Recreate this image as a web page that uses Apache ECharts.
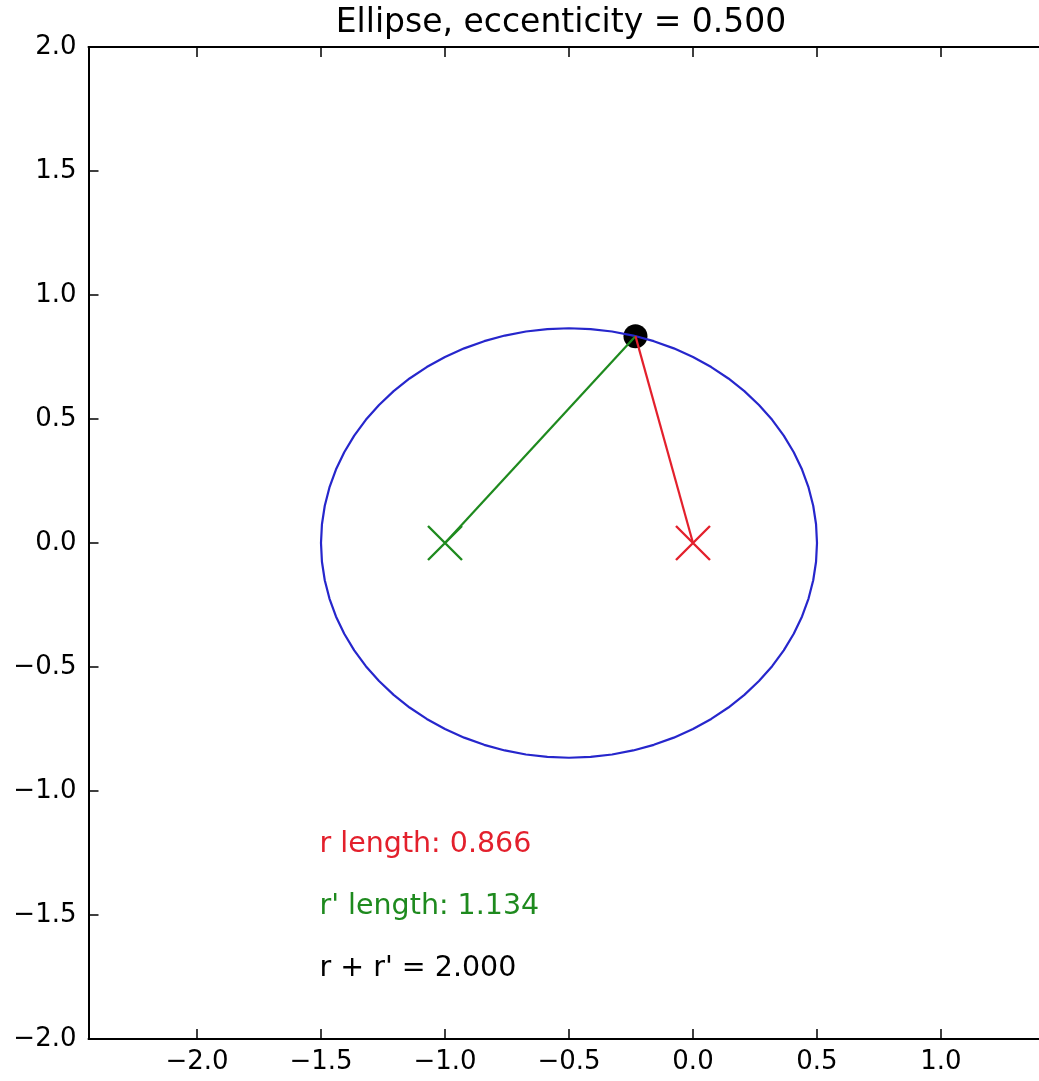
<!DOCTYPE html>
<html>
<head>
<meta charset="utf-8">
<script src="https://cdn.jsdelivr.net/npm/echarts@6/dist/echarts.min.js"></script>
<style>
  html, body { margin: 0; padding: 0; background: #fff; }
  #chart { width: 1039px; height: 1081px; }
</style>
</head>
<body>
<div id="chart"></div>
<script>
// ---- data ----
const titleText = 'Ellipse, eccenticity = 0.500';
const xTicks = [-2.0, -1.5, -1.0, -0.5, 0.0, 0.5, 1.0];
const yTicks = [-2.0, -1.5, -1.0, -0.5, 0.0, 0.5, 1.0, 1.5, 2.0];
const xRange = [-2.4375, 1.3952];   // visible part of the x range (figure is cropped on the right)
const yRange = [-2.0, 2.0];

// ellipse outline (center -0.5, a = 1, b = 0.866), read at 5-degree steps
const ellipseX = [
  0.5, 0.4962, 0.4848, 0.4659, 0.4397, 0.4063, 0.3660, 0.3192, 0.2660, 0.2071,
  0.1428, 0.0736, 0.0, -0.0774, -0.1580, -0.2412, -0.3264, -0.4128, -0.5,
  -0.5872, -0.6736, -0.7588, -0.8420, -0.9226, -1.0, -1.0736, -1.1428, -1.2071,
  -1.2660, -1.3192, -1.3660, -1.4063, -1.4397, -1.4659, -1.4848, -1.4962, -1.5,
  -1.4962, -1.4848, -1.4659, -1.4397, -1.4063, -1.3660, -1.3192, -1.2660, -1.2071,
  -1.1428, -1.0736, -1.0, -0.9226, -0.8420, -0.7588, -0.6736, -0.5872, -0.5,
  -0.4128, -0.3264, -0.2412, -0.1580, -0.0774, 0.0, 0.0736, 0.1428, 0.2071,
  0.2660, 0.3192, 0.3660, 0.4063, 0.4397, 0.4659, 0.4848, 0.4962, 0.5];
const ellipseY = [
  0, 0.0755, 0.1503, 0.2241, 0.2962, 0.3660, 0.4330, 0.4967, 0.5567, 0.6123,
  0.6634, 0.7094, 0.7500, 0.7849, 0.8138, 0.8365, 0.8528, 0.8627, 0.8660,
  0.8627, 0.8528, 0.8365, 0.8138, 0.7849, 0.7500, 0.7094, 0.6634, 0.6123,
  0.5567, 0.4967, 0.4330, 0.3660, 0.2962, 0.2241, 0.1503, 0.0755, 0,
  -0.0755, -0.1503, -0.2241, -0.2962, -0.3660, -0.4330, -0.4967, -0.5567, -0.6123,
  -0.6634, -0.7094, -0.7500, -0.7849, -0.8138, -0.8365, -0.8528, -0.8627, -0.8660,
  -0.8627, -0.8528, -0.8365, -0.8138, -0.7849, -0.7500, -0.7094, -0.6634, -0.6123,
  -0.5567, -0.4967, -0.4330, -0.3660, -0.2962, -0.2241, -0.1503, -0.0755, 0];

const focusR = [0.0, 0.0];      // red focus
const focusG = [-1.0, 0.0];     // green focus
const orbitPoint = [-0.232, 0.834];

const noteTexts = ['r length: 0.866', "r' length: 1.134", "r + r' = 2.000"];
const noteX = [-1.5, -1.5, -1.5];
const noteY = [-1.25, -1.5, -1.75];

// ---- styling ----
const FONT = 'DejaVu Sans';
const RED = '#e3202c';
const GREEN = '#1e8a1e';
const BLUE = '#2626cc';
const noteColors = [RED, GREEN, '#000000'];

const fmt = v => (v < 0 ? '\u2212' : '') + Math.abs(v).toFixed(1);

function xAxisDef(pos, showLabel) {
  return {
    type: 'value', position: pos, min: xRange[0], max: xRange[1],
    axisLine: { show: true, onZero: false, lineStyle: { color: '#000', width: 2 } },
    axisTick: { show: true, inside: true, length: 10, customValues: xTicks,
      lineStyle: { color: '#000', width: 1.5 } },
    axisLabel: { show: showLabel, customValues: xTicks, formatter: fmt, margin: 10,
      fontSize: 26, fontFamily: FONT, color: '#000' },
    splitLine: { show: false }
  };
}
function yAxisDef(pos, show) {
  return {
    type: 'value', position: pos, min: yRange[0], max: yRange[1], show: show,
    axisLine: { show: true, onZero: false, lineStyle: { color: '#000', width: 2 } },
    axisTick: { show: true, inside: true, length: 10, customValues: yTicks,
      lineStyle: { color: '#000', width: 1.5 } },
    axisLabel: { show: true, customValues: yTicks, formatter: fmt, margin: 12,
      fontSize: 26, fontFamily: FONT, color: '#000' },
    splitLine: { show: false }
  };
}

const crossPath = 'path://M0,0L10,10M10,0L0,10';

const series = [
  {
    type: 'line', name: 'ellipse', showSymbol: false, symbol: 'none',
    data: ellipseX.map((x, i) => [x, ellipseY[i]]),
    lineStyle: { color: BLUE, width: 2.2 }, silent: true
  },
  {
    type: 'scatter', name: 'point', symbol: 'circle', symbolSize: 24,
    data: [orbitPoint], itemStyle: { color: '#000', opacity: 1 }, silent: true
  },
  {
    type: 'line', name: 'r prime', showSymbol: false, symbol: 'none',
    data: [focusG, orbitPoint], lineStyle: { color: GREEN, width: 2.2 }, silent: true
  },
  {
    type: 'line', name: 'r', showSymbol: false, symbol: 'none',
    data: [focusR, orbitPoint], lineStyle: { color: RED, width: 2.2 }, silent: true
  },
  {
    type: 'scatter', name: 'focus green', symbol: crossPath, symbolSize: 34,
    data: [focusG],
    itemStyle: { color: 'rgba(0,0,0,0)', borderColor: GREEN, borderWidth: 2.4, opacity: 1 },
    silent: true
  },
  {
    type: 'scatter', name: 'focus red', symbol: crossPath, symbolSize: 34,
    data: [focusR],
    itemStyle: { color: 'rgba(0,0,0,0)', borderColor: RED, borderWidth: 2.4, opacity: 1 },
    silent: true
  }
];

noteTexts.forEach((t, i) => {
  series.push({
    type: 'scatter', name: 'note' + i, symbol: 'circle', symbolSize: 1,
    data: [[noteX[i], noteY[i]]],
    itemStyle: { color: 'rgba(0,0,0,0)', opacity: 1 },
    label: {
      show: true, position: 'right', distance: 0, offset: [-2, -8],
      formatter: () => t, fontFamily: FONT, fontSize: 28.5, color: noteColors[i]
    },
    silent: true
  });
});

const chart = echarts.init(document.getElementById('chart'), null, { renderer: 'canvas' });
chart.setOption({
  animation: false,
  backgroundColor: '#ffffff',
  title: {
    text: titleText, left: 561, top: 7, textAlign: 'center', padding: 0,
    textStyle: { fontFamily: FONT, fontSize: 33, fontWeight: 'normal', color: '#000' }
  },
  grid: { left: 88.5, top: 47, right: 0, height: 992, show: false, outerBoundsMode: 'none', containLabel: false },
  xAxis: [xAxisDef('bottom', true), xAxisDef('top', false)],
  yAxis: [yAxisDef('left', true), yAxisDef('right', false)],
  series: series
});
</script>
</body>
</html>
